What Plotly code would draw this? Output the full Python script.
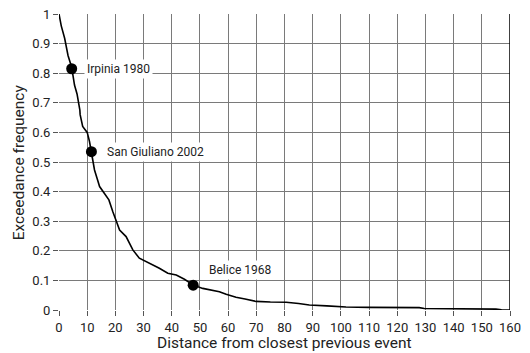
import plotly.graph_objects as go

# Exceedance curve (distance, frequency)
dist = [0, 0.8, 2.0, 2.3, 3.2, 4.5, 5.5, 6.4, 7.0, 7.4, 7.5, 8.4, 9.2, 10.0, 10.8, 11.4, 12.0, 12.6,
        13.5, 14.4, 16.0, 17.7, 19.1, 20.3, 21.5, 23.8, 25.0, 26.2, 28.5, 30.0, 32.1, 35.6, 38.6,
        41.6, 44.5, 47.7, 51.0, 53.4, 56.9, 59.3, 62.8, 66.0, 69.9, 75.0, 80.6, 85.0, 88.8, 95.0,
        101.8, 110.0, 120.0, 127.8, 129.6, 140.0, 151.5, 155.0, 157.0, 160.0]
freq = [1.0, 0.96, 0.918, 0.90, 0.86, 0.82, 0.76, 0.73, 0.70, 0.675, 0.66, 0.62, 0.61, 0.60, 0.57,
        0.535, 0.50, 0.473, 0.445, 0.417, 0.395, 0.372, 0.332, 0.298, 0.27, 0.248, 0.228, 0.203,
        0.175, 0.168, 0.158, 0.141, 0.124, 0.118, 0.104, 0.084, 0.073, 0.068, 0.062, 0.053, 0.043,
        0.037, 0.029, 0.027, 0.026, 0.022, 0.017, 0.014, 0.010, 0.009, 0.009, 0.008, 0.005, 0.005,
        0.004, 0.003, 0.001, 0.0]

# Highlighted events
event_names = ["Irpinia 1980", "San Giuliano 2002", "Belice 1968"]
event_x = [4.5, 11.5, 47.6]
event_y = [0.815, 0.535, 0.084]
label_x = [8.8, 16.0, 52.2]
label_y = [0.815, 0.535, 0.135]

x_ticks = list(range(0, 161, 10))
y_ticks = [0, 0.1, 0.2, 0.3, 0.4, 0.5, 0.6, 0.7, 0.8, 0.9, 1]
y_tick_text = ["0", "0.1", "0.2", "0.3", "0.4", "0.5", "0.6", "0.7", "0.8", "0.9", "1"]

FONT = "Roboto, Liberation Sans, sans-serif"

fig = go.Figure()
fig.add_trace(go.Scatter(x=dist, y=freq, mode="lines",
                         line=dict(color="black", width=1.6), showlegend=False, hoverinfo="skip"))
fig.add_trace(go.Scatter(x=event_x, y=event_y, mode="markers",
                         marker=dict(color="black", size=11), showlegend=False))

for name, lx, ly in zip(event_names, label_x, label_y):
    fig.add_annotation(x=lx, y=ly, text=name, showarrow=False, xanchor="left", yanchor="middle",
                       bgcolor="white", borderpad=2,
                       font=dict(family=FONT, size=12, color="#222"))

# axis titles
fig.add_annotation(x=0.5, y=-0.075, xref="paper", yref="paper", yanchor="top", xanchor="center",
                   showarrow=False, text="Distance from closest previous event",
                   font=dict(family=FONT, size=15.5, color="#222"))
fig.add_annotation(x=-0.088, y=0.5, xref="paper", yref="paper", xanchor="center", yanchor="middle",
                   showarrow=False, text="Exceedance frequency", textangle=-90,
                   font=dict(family=FONT, size=15.5, color="#222"))

fig.add_shape(type="line", x0=160, x1=160, y0=0, y1=1, xref="x", yref="y",
              line=dict(color="black", width=1.5))

fig.update_layout(
    width=530, height=353,
    margin=dict(l=59, r=20, t=14, b=43),
    paper_bgcolor="white", plot_bgcolor="white",
    font=dict(family=FONT, size=13, color="#222"),
)
fig.update_xaxes(range=[0, 160], tickvals=x_ticks, showgrid=True, gridcolor="#7a7a7a", gridwidth=1.4,
                 zeroline=False, showline=False, ticks="outside", ticklen=5, tickcolor="#555",
                 automargin=False, tickfont=dict(size=13))
fig.update_yaxes(range=[0, 1], tickvals=y_ticks, ticktext=y_tick_text, showgrid=True,
                 gridcolor="#7a7a7a", gridwidth=1.4, zeroline=False, showline=False,
                 ticks="outside", ticklen=5, tickcolor="#555",
                 automargin=False, tickfont=dict(size=13))

fig.write_html("out.html", config={"displayModeBar": False},
               post_script="document.body.style.margin='0';document.body.style.overflow='hidden';")
